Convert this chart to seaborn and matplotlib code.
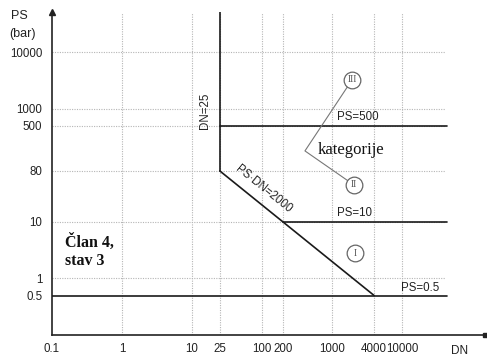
import numpy as np
import pandas as pd
import matplotlib
matplotlib.use("Agg")
import matplotlib.pyplot as plt
import seaborn as sns

# Tick values on the two logarithmic axes
dn_ticks = [0.1, 1, 10, 25, 100, 200, 1000, 4000, 10000]
dn_tick_labels = ["0.1", "1", "10", "25", "100", "200", "1000", "4000", "10000"]
ps_ticks = [0.5, 1, 10, 80, 500, 1000, 10000]
ps_tick_labels = ["0.5", "1", "10", "80", "500", "1000", "10000"]

# Dotted reference lines
dn_grid = [1, 10, 25, 100, 200, 1000, 4000, 10000]
ps_grid = [1, 10, 80, 500, 1000, 10000]

# Category boundaries: start/end (DN, PS) of each segment
boundary_segment = ["DN=25", "DN=25",
                    "PS·DN=2000", "PS·DN=2000",
                    "PS=500", "PS=500",
                    "PS=10", "PS=10",
                    "PS=0.5", "PS=0.5"]
boundary_dn = [25, 25, 25, 4000, 25, 44000, 200, 44000, 0.1, 44000]
boundary_ps = [52000, 80, 80, 0.5, 500, 500, 10, 10, 0.5, 0.5]

boundaries = pd.DataFrame({"segment": boundary_segment,
                           "DN": boundary_dn,
                           "PS": boundary_ps})

sns.set_theme(style="white")
plt.rcParams["font.family"] = ["Liberation Sans", "DejaVu Sans"]

W, H = 487, 358
fig = plt.figure(figsize=(W / 100, H / 100), dpi=100)
fig.patch.set_facecolor("white")


def fx(px, py):
    return px / W, 1 - py / H


ax = fig.add_axes([52 / W, (H - 335) / H, 433 / W, 323 / H])
ax.set_xscale("log")
ax.set_yscale("log")
ax.set_xlim(0.1, 153500)
ax.set_ylim(0.1, 52000)
ax.set_facecolor("white")

grid_kw = dict(color="#b5b5b5", lw=0.8, ls=(0, (1, 1.2)), zorder=1)
ax.vlines(dn_grid, 0.1, 50000, **grid_kw)
ax.hlines(ps_grid, 0.1, 41000, **grid_kw)

sns.lineplot(data=boundaries, x="DN", y="PS", units="segment",
             estimator=None, sort=False, color="#1a1a1a", lw=1.2,
             ax=ax, zorder=3, legend=False)

# axes
for side in ("top", "right"):
    ax.spines[side].set_visible(False)
for side in ("left", "bottom"):
    ax.spines[side].set_color("#222222")
    ax.spines[side].set_linewidth(1.2)
ax.plot(0, 1, marker="^", ms=5, color="#222222", transform=ax.transAxes,
        clip_on=False, zorder=5)
ax.plot(1, 0, marker="s", ms=2.5, color="#222222", transform=ax.transAxes,
        clip_on=False, zorder=5)

ax.set_xticks(dn_ticks)
ax.set_xticklabels(dn_tick_labels)
ax.set_yticks(ps_ticks)
ax.set_yticklabels(ps_tick_labels)
ax.minorticks_off()
ax.tick_params(axis="x", which="major", direction="inout", length=6,
               width=1.0, color="#222222", labelsize=8.3, pad=3,
               labelcolor="#222222")
ax.tick_params(axis="y", which="major", direction="out", length=5,
               width=1.0, color="#222222", labelsize=8.3, pad=2,
               labelcolor="#222222")
ax.set_xlabel("")
ax.set_ylabel("")

# axis titles
fig.text(*fx(11, 16), "PS", fontsize=9, ha="left", va="center", color="#222222")
fig.text(*fx(9, 34), "(bar)", fontsize=9, ha="left", va="center", color="#222222")
fig.text(*fx(460, 351), "DN", fontsize=8.5, ha="center", va="center", color="#222222")

# boundary labels
lab_kw = dict(fontsize=8.3, color="#222222", ha="center", va="center", zorder=6)
ax.text(15.3, 923, "DN=25", rotation=90, **lab_kw)
ax.text(105, 38, "PS·DN=2000", rotation=-38.9, **lab_kw)
ax.text(2352, 721, "PS=500", **lab_kw)
ax.text(2132, 14.4, "PS=10", **lab_kw)
ax.text(18070, 0.68, "PS=0.5", **lab_kw)

# category markers
ax.plot([1931, 411, 2061], [3260, 181, 45.2], color="#777777", lw=0.8, zorder=4)
for cx, cy, num in [(1931, 3260, "III"), (2061, 45.2, "II"), (2132, 2.82, "I")]:
    ax.plot(cx, cy, marker="o", ms=12, mfc="white", mec="#666666", mew=0.9,
            zorder=5)
    ax.text(cx, cy, num, fontsize=7, ha="center", va="center",
            color="#555555", zorder=6,
            family=["Liberation Serif", "DejaVu Serif"])

ax.text(1868, 188, "kategorije", fontsize=12, ha="center", va="center",
        color="#111111", family=["Liberation Serif", "DejaVu Serif"], zorder=6)
ax.text(0.153, 6.3, "Član 4,\nstav 3", fontsize=11.5, ha="left", va="top",
        fontweight="bold", color="#111111", linespacing=1.25,
        family=["Liberation Serif", "DejaVu Serif"], zorder=6)

fig.savefig("out.png", dpi=100, facecolor="white")
